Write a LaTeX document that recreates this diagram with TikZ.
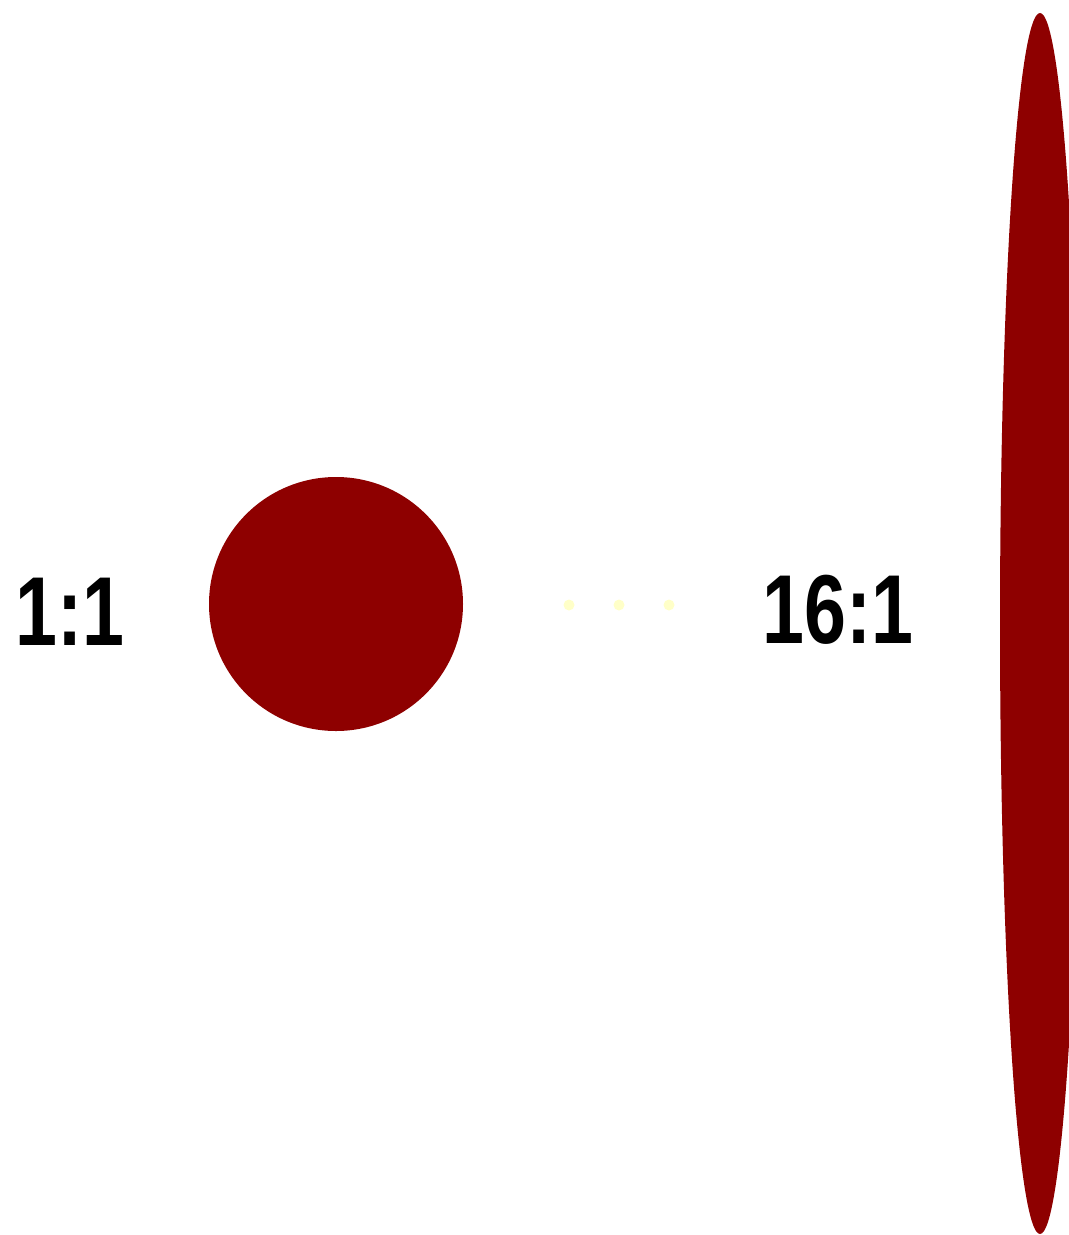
\documentclass[tikz,border=0pt]{standalone}
\usepackage{fontspec}
\usepackage{graphicx}
\setmainfont{Liberation Sans}
\usetikzlibrary{shapes.geometric}
\definecolor{blobred}{RGB}{142,0,0}
\definecolor{dotyellow}{RGB}{255,255,200}
\newcommand{\ratiotext}[1]{\scalebox{0.8}[1.04]{#1}}
\tikzset{
  blob/.style={fill=blobred, draw=none, inner sep=0pt},
  ratio/.style={font=\fontsize{134}{134}\selectfont\bfseries, anchor=base, inner sep=0pt},
  gapdot/.style={circle, fill=dotyellow, draw=none, inner sep=0pt, minimum size=5.5mm}
}

\begin{document}
\begin{tikzpicture}[x=0.5mm, y=-0.5mm]
\useasboundingbox (0,0) rectangle (1069,1235);

\node[ratio] (lowratio) at (70,645) {\ratiotext{1:1}};
\node[blob, circle, minimum size=127mm] (round) at (336,604) {};

\foreach \i/\x in {1/569, 2/619, 3/669}
  \node[gapdot] (dot\i) at (\x,605) {};

\node[ratio] (highratio) at (838,643) {\ratiotext{16:1}};
\node[blob, ellipse, minimum width=40mm, minimum height=610.5mm] (long) at (1040,623.5) {};

\end{tikzpicture}
\end{document}
